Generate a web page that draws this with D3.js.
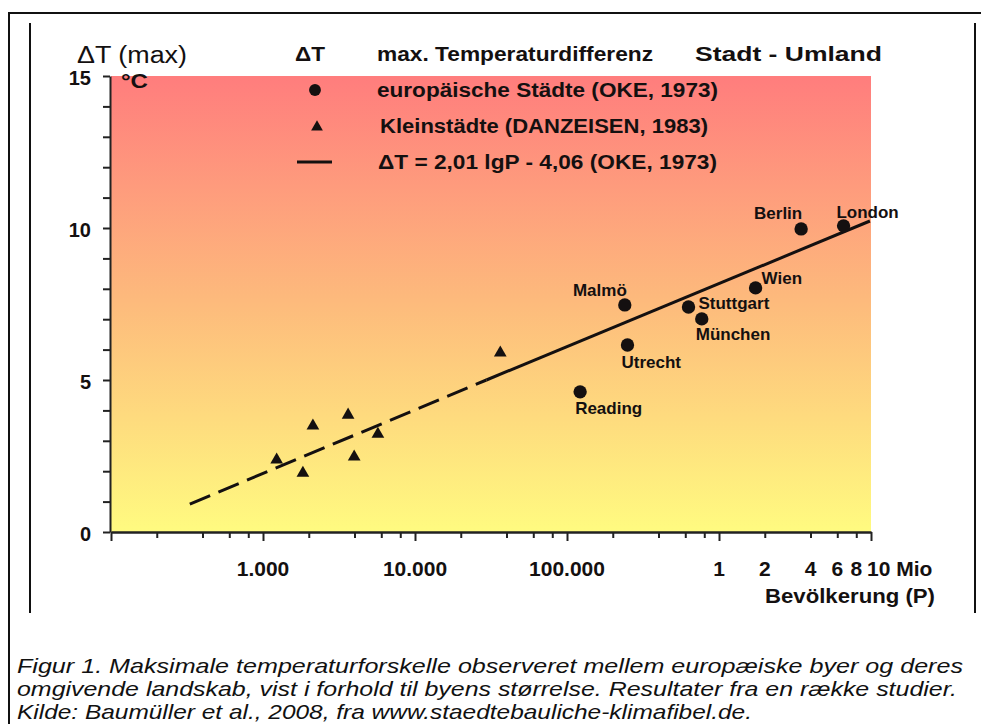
<!DOCTYPE html>
<html>
<head>
<meta charset="utf-8">
<script src="https://cdn.jsdelivr.net/npm/d3@7"></script>
<style>
  html, body { margin: 0; padding: 0; background: #fff; }
  svg { display: block; font-family: "Liberation Sans", Arial, sans-serif; }
</style>
</head>
<body>
<svg id="chart" width="981" height="724"></svg>
<script>
// European cities (OKE, 1973)
const cityNames = ["Berlin", "London", "Wien", "Malmö", "Stuttgart", "München", "Utrecht", "Reading"];
const cityPop   = [3.47e6, 6.6e6, 1.74e6, 2.4e5, 6.3e5, 7.7e5, 2.5e5, 1.22e5];
const cityDT    = [9.97, 10.07, 8.03, 7.47, 7.40, 7.01, 6.15, 4.61];

// small towns (DANZEISEN, 1983)
const townPop = [1230, 1830, 2130, 3630, 3980, 5700, 36400];
const townDT  = [2.37, 1.94, 3.49, 3.85, 2.47, 3.22, 5.89];

// regression line as drawn: dashed part, then solid part
const fitDashedPop = [330, 29500];
const fitDashedDT  = [0.92, 5.0];
const fitSolidPop  = [29500, 9.84e6];
const fitSolidDT   = [5.0, 10.23];

// axis ticks
const yTickValues = d3.range(0, 16);
const yTickLabels = [0, 5, 10, 15];
const xDecades = [100, 1e3, 1e4, 1e5, 1e6, 1e7];
const xMinorSteps = [2, 4, 6, 8];
const xTickValues = [1e3, 1e4, 1e5, 1e6, 2e6, 4e6, 6e6, 8e6, 1e7];
const xTickLabels = ["1.000", "10.000", "100.000", "1", "2", "4", "6", "8", "10 Mio"];

const legendTexts = [
  "europäische Städte (OKE, 1973)",
  "Kleinstädte (DANZEISEN, 1983)",
  "ΔT = 2,01 lgP - 4,06 (OKE, 1973)"
];

const captionLines = [
  "Figur 1. Maksimale temperaturforskelle observeret mellem europæiske byer og deres",
  "omgivende landskab, vist i forhold til byens størrelse. Resultater fra en række studier.",
  "Kilde: Baumüller et al., 2008, fra www.staedtebauliche-klimafibel.de."
];

// label placement next to each city dot: [dx, dy, anchor]
const cityLabelPos = {
  "Berlin":    [-23, -16, "middle"],
  "London":    [24, -14, "middle"],
  "Wien":      [6, -10, "start"],
  "Malmö":     [2, -15, "end"],
  "Stuttgart": [10, -4, "start"],
  "München":   [-6, 15, "start"],
  "Utrecht":   [-6, 17, "start"],
  "Reading":   [-5, 16, "start"]
};

const ink = "#141010";
const svg = d3.select("#chart");
const x = d3.scaleLog().domain([100, 1e7]).range([111, 871]);
const y = d3.scaleLinear().domain([0, 15]).range([532, 76]);

// frame around figure
svg.append("rect").attr("x", 9).attr("y", 13).attr("width", 990).attr("height", 740)
  .attr("fill", "none").attr("stroke", "#111").attr("stroke-width", 2);
[30, 975].forEach(px => {
  svg.append("line").attr("x1", px).attr("x2", px).attr("y1", 23).attr("y2", 613)
    .attr("stroke", "#111").attr("stroke-width", 2);
});

// gradient background
const grad = svg.append("defs").append("linearGradient")
  .attr("id", "bg").attr("x1", 0).attr("y1", 0).attr("x2", 0).attr("y2", 1);
grad.append("stop").attr("offset", 0).attr("stop-color", "#ff7d7d");
grad.append("stop").attr("offset", 0.5).attr("stop-color", "#fdbb7c");
grad.append("stop").attr("offset", 1).attr("stop-color", "#fffb80");
svg.append("rect")
  .attr("x", x(100)).attr("y", y(15))
  .attr("width", x(1e7) - x(100)).attr("height", y(0) - y(15))
  .attr("fill", "url(#bg)");

// y axis
svg.append("g")
  .attr("transform", `translate(${x(100) - 1},0)`)
  .call(d3.axisLeft(y).tickValues(yTickValues).tickSize(7).tickSizeOuter(0).tickFormat(""))
  .call(g => g.selectAll("path,line").attr("stroke", "#222").attr("stroke-width", 2));

svg.append("g").selectAll("text").data(yTickLabels).join("text")
  .attr("x", 91).attr("y", d => y(d) + 2).attr("dy", "0.35em")
  .attr("text-anchor", "end").attr("font-size", 20).attr("font-weight", "bold")
  .attr("fill", ink).text(d => d);

// x axis: minor ticks, then decade ticks
const xMinor = xDecades.slice(0, -1).flatMap(d => xMinorSteps.map(m => d * m));
svg.append("g")
  .attr("transform", `translate(0,${y(0)})`)
  .call(d3.axisBottom(x).tickValues(xMinor).tickSize(6).tickSizeOuter(0).tickFormat(""))
  .call(g => g.selectAll("path,line").attr("stroke", "#222").attr("stroke-width", 2));
svg.append("g")
  .attr("transform", `translate(0,${y(0)})`)
  .call(d3.axisBottom(x).tickValues(xDecades).tickSize(9).tickSizeOuter(0).tickFormat(""))
  .call(g => g.selectAll("path,line").attr("stroke", "#222").attr("stroke-width", 2));

svg.append("g").selectAll("text").data(xTickValues).join("text")
  .attr("x", (d, i) => i === xTickValues.length - 1 ? x(d) - 4 : x(d))
  .attr("y", 576)
  .attr("text-anchor", (d, i) => i === xTickValues.length - 1 ? "start" : "middle")
  .attr("font-size", 21).attr("font-weight", "bold").attr("fill", ink)
  .text((d, i) => xTickLabels[i]);

svg.append("text").attr("x", 765).attr("y", 603)
  .attr("font-size", 21).attr("font-weight", "bold").attr("fill", ink)
  .attr("textLength", 170).attr("lengthAdjust", "spacingAndGlyphs")
  .text("Bevölkerung (P)");

// y title
svg.append("text").attr("x", 77).attr("y", 63)
  .attr("font-size", 23).attr("fill", ink)
  .attr("textLength", 110).attr("lengthAdjust", "spacingAndGlyphs")
  .text("ΔT (max)");
svg.append("text").attr("x", 121).attr("y", 88)
  .attr("font-size", 21).attr("font-weight", "bold").attr("fill", ink)
  .attr("textLength", 27).attr("lengthAdjust", "spacingAndGlyphs")
  .text("°C");

// regression line
const line = d3.line().x(d => x(d[0])).y(d => y(d[1]));
svg.append("path")
  .datum(d3.zip(fitDashedPop, fitDashedDT))
  .attr("d", line).attr("fill", "none").attr("stroke", ink)
  .attr("stroke-width", 3).attr("stroke-dasharray", "22,9");
svg.append("path")
  .datum(d3.zip(fitSolidPop, fitSolidDT))
  .attr("d", line).attr("fill", "none").attr("stroke", ink)
  .attr("stroke-width", 3);

// small towns
svg.append("g").selectAll("path").data(d3.zip(townPop, townDT)).join("path")
  .attr("transform", d => `translate(${x(d[0])},${y(d[1])})`)
  .attr("d", d3.symbol(d3.symbolTriangle, 70))
  .attr("fill", ink);

// cities
const cities = cityNames.map((n, i) => ({ name: n, p: cityPop[i], t: cityDT[i] }));
svg.append("g").selectAll("path").data(cities).join("path")
  .attr("transform", d => `translate(${x(d.p)},${y(d.t)})`)
  .attr("d", d3.symbol(d3.symbolCircle, 140))
  .attr("fill", ink);
svg.append("g").selectAll("text").data(cities).join("text")
  .attr("x", d => x(d.p) + cityLabelPos[d.name][0])
  .attr("y", d => y(d.t) + cityLabelPos[d.name][1])
  .attr("dy", "0.35em")
  .attr("text-anchor", d => cityLabelPos[d.name][2])
  .attr("font-size", 17).attr("font-weight", "bold").attr("fill", ink)
  .text(d => d.name);

// legend
const lg = svg.append("g").attr("font-weight", "bold").attr("font-size", 20).attr("fill", ink);
lg.append("text").attr("x", 295).attr("y", 61).attr("textLength", 30)
  .attr("lengthAdjust", "spacingAndGlyphs").text("ΔT");
lg.append("text").attr("x", 377).attr("y", 61).attr("textLength", 276)
  .attr("lengthAdjust", "spacingAndGlyphs").text("max. Temperaturdifferenz");
lg.append("text").attr("x", 695).attr("y", 61).attr("textLength", 187)
  .attr("lengthAdjust", "spacingAndGlyphs").text("Stadt - Umland");

const legendX = [377, 380, 378];
const legendW = [341, 328, 339];
lg.selectAll("text.entry").data(legendTexts).join("text").attr("class", "entry")
  .attr("x", (d, i) => legendX[i]).attr("y", (d, i) => 97 + i * 36)
  .attr("textLength", (d, i) => legendW[i]).attr("lengthAdjust", "spacingAndGlyphs")
  .text(d => d);
lg.append("path").attr("transform", "translate(315,90)")
  .attr("d", d3.symbol(d3.symbolCircle, 110));
lg.append("path").attr("transform", "translate(317,127)")
  .attr("d", d3.symbol(d3.symbolTriangle, 60));
lg.append("line").attr("x1", 297).attr("x2", 332).attr("y1", 162).attr("y2", 162)
  .attr("stroke", ink).attr("stroke-width", 3);

// caption
const capW = [946, 940, 735];
svg.append("g").selectAll("text").data(captionLines).join("text")
  .attr("x", 17).attr("y", (d, i) => 673 + i * 23)
  .attr("font-size", 21).attr("font-style", "italic").attr("fill", "#111")
  .attr("textLength", (d, i) => capW[i]).attr("lengthAdjust", "spacingAndGlyphs")
  .text(d => d);
</script>
</body>
</html>
